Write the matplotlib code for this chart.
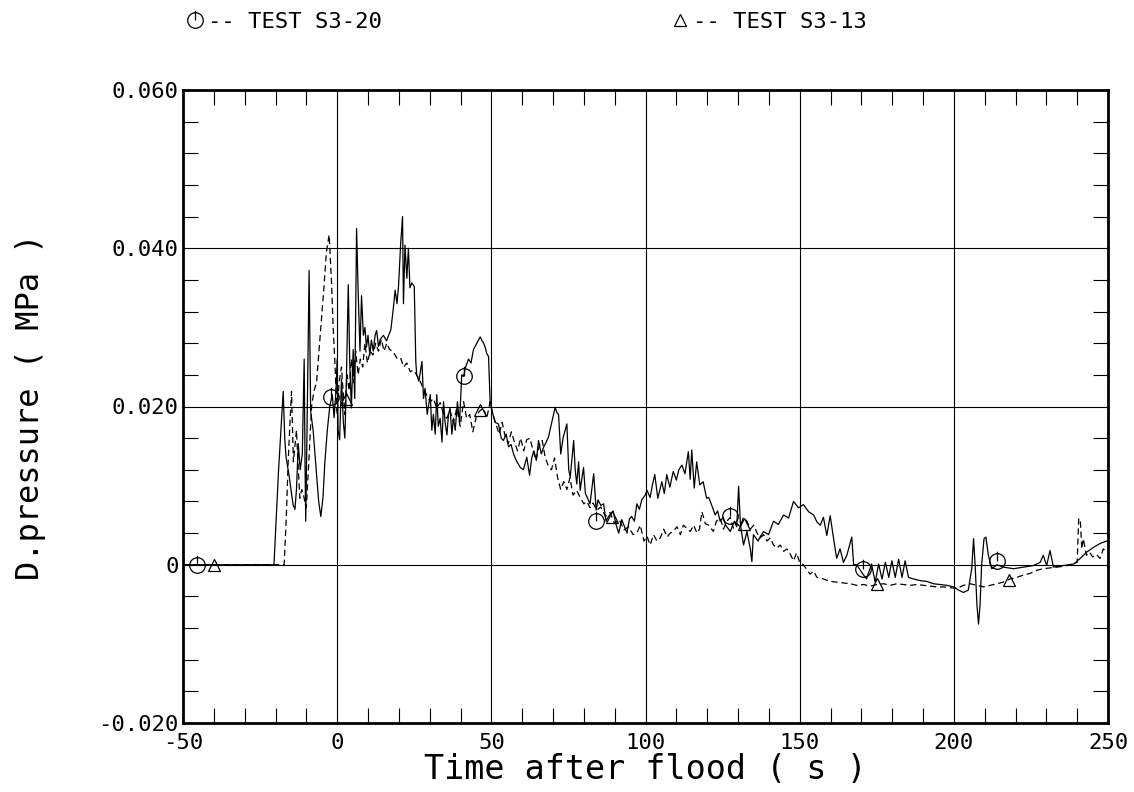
import numpy as np
import matplotlib
matplotlib.use("Agg")
import matplotlib.pyplot as plt
from matplotlib.path import Path
from matplotlib.ticker import FixedLocator, FixedFormatter, MultipleLocator

# TEST S3-20 (solid line), (time s, pressure MPa)
s3_20 = [
    (-50, 0.0), (-20.5, 0.0), (-19, 0.012), (-17.5, 0.0219), (-17, 0.016),
    (-16.6, 0.0137), (-15.5, 0.011), (-14.3, 0.0076), (-13.7, 0.007), (-13.2, 0.0095),
    (-12.6, 0.0153), (-12, 0.012), (-11.3, 0.014), (-11, 0.020), (-10.7, 0.026),
    (-10.4, 0.012), (-10.2, 0.0055), (-9.6, 0.022), (-9.1, 0.0372), (-8.6, 0.0194),
    (-7.8, 0.017), (-7, 0.013), (-6, 0.008), (-5.3, 0.0061), (-4.6, 0.0085),
    (-4, 0.0129), (-3.2, 0.017), (-2.4, 0.020), (-1.6, 0.0215), (-1, 0.0186),
    (-0.4, 0.0219), (0, 0.026), (0.3, 0.017), (0.8, 0.0158), (1.4, 0.0235),
    (2, 0.018), (2.5, 0.016), (3.0, 0.0235), (3.6, 0.0354), (4.1, 0.0252),
    (4.6, 0.0198), (5.2, 0.0272), (5.7, 0.021), (6.3, 0.0425), (6.8, 0.0346),
    (7.4, 0.027), (7.9, 0.034), (8.5, 0.029), (9.0, 0.030), (9.5, 0.0275),
    (10, 0.029), (10.6, 0.0265), (11.1, 0.0284), (11.7, 0.027), (12.3, 0.029),
    (12.8, 0.0296), (13.4, 0.0276), (14, 0.0285), (15, 0.029), (16, 0.0283),
    (17.4, 0.0297), (18.1, 0.032), (18.8, 0.0347), (19.4, 0.033), (19.9, 0.0352),
    (20.6, 0.0406), (21.2, 0.044), (21.5, 0.033), (22, 0.0404), (22.6, 0.0362),
    (23.1, 0.040), (23.6, 0.035), (24.2, 0.0356), (25, 0.0352), (25.5, 0.0257),
    (25.8, 0.024), (26.5, 0.0232), (27.5, 0.0257), (28, 0.021), (28.5, 0.0223),
    (29.2, 0.019), (30.2, 0.0215), (30.7, 0.017), (31.2, 0.019), (31.8, 0.0165),
    (32.3, 0.0215), (32.8, 0.0175), (33.4, 0.0185), (34, 0.0155), (34.5, 0.0206),
    (35, 0.018), (35.6, 0.0164), (36.1, 0.019), (36.6, 0.0198), (37.2, 0.0165),
    (37.7, 0.0185), (38.3, 0.017), (39, 0.0206), (39.7, 0.018), (40.4, 0.024),
    (41, 0.0238), (41.5, 0.0248), (42.6, 0.026), (43.4, 0.0255), (44.2, 0.0272),
    (45.3, 0.028), (46.4, 0.0288), (47, 0.0283), (47.5, 0.028), (48.0, 0.0275),
    (48.5, 0.0267), (49.1, 0.0263), (49.6, 0.0206), (50.2, 0.0195), (51.2, 0.018),
    (52.3, 0.0178), (53.2, 0.016), (53.9, 0.0157), (54.8, 0.0165), (55.6, 0.0149),
    (56.4, 0.0152), (57.2, 0.014), (58.3, 0.013), (59.4, 0.0123), (60.4, 0.012),
    (61.5, 0.0136), (62.4, 0.0113), (63.1, 0.0135), (63.8, 0.0144), (64.6, 0.0132),
    (65.3, 0.0157), (66.2, 0.014), (67, 0.0149), (67.8, 0.0155), (68.5, 0.0161),
    (69.6, 0.018), (70.7, 0.0199), (71.3, 0.0192), (71.8, 0.019), (72.5, 0.014),
    (73.3, 0.0161), (74.5, 0.0178), (75.1, 0.012), (75.6, 0.0111), (76.7, 0.0157),
    (77.2, 0.012), (77.7, 0.0102), (78.3, 0.013), (78.8, 0.0094), (79.9, 0.0123),
    (80.5, 0.009), (81, 0.0086), (82, 0.0077), (83.2, 0.0115), (84, 0.0069),
    (84.6, 0.0082), (85.5, 0.0075), (86.4, 0.0077), (87.2, 0.0055), (88, 0.0061),
    (89.5, 0.0068), (90.5, 0.005), (91.3, 0.004), (92.3, 0.0057), (93.2, 0.0048),
    (94, 0.004), (94.8, 0.0058), (95.5, 0.0061), (96.4, 0.0055), (97.2, 0.0077),
    (98, 0.007), (98.8, 0.0082), (99.9, 0.0088), (100.5, 0.0094), (101.5, 0.0085),
    (102.2, 0.010), (103, 0.0114), (104, 0.0084), (105.3, 0.0105), (106.1, 0.009),
    (106.9, 0.0114), (107.9, 0.0098), (109, 0.0118), (110, 0.0107), (110.8, 0.012),
    (111.8, 0.0126), (112.8, 0.0115), (113.9, 0.0143), (114.5, 0.0108), (115, 0.0145),
    (115.8, 0.0097), (116.6, 0.013), (117.6, 0.0101), (118.7, 0.0105), (119.8, 0.0084),
    (120.5, 0.0085), (121.4, 0.0076), (122.6, 0.0063), (123.4, 0.0068), (124.2, 0.0055),
    (125.2, 0.006), (126, 0.005), (127.5, 0.0042), (128.8, 0.0055), (129.6, 0.0048),
    (130.2, 0.0099), (130.8, 0.005), (131.8, 0.0025), (132.9, 0.0042), (134, 0.002),
    (134.5, 0.0004), (135, 0.0038), (136.5, 0.003), (137.3, 0.0036), (138.3, 0.0042),
    (139.9, 0.0038), (141.5, 0.0055), (143.1, 0.0051), (144.8, 0.0063), (146.4, 0.0059),
    (148, 0.008), (149.6, 0.0072), (151.2, 0.0076), (152.9, 0.0067), (154.5, 0.0063),
    (155.6, 0.0054), (156.7, 0.005), (157.7, 0.006), (158.8, 0.0037), (159.9, 0.0062),
    (161, 0.0033), (162, 0.0008), (163.1, 0.002), (164.2, 0.0003), (165.3, 0.0012),
    (166.9, 0.0035), (167.5, 0.0), (168.5, 0.0), (170, -0.0009), (171.7, -0.0018),
    (173.3, 0.0001), (174.5, -0.0022), (175.6, 0.0001), (176.7, -0.0018), (177.8, 0.0003),
    (178.9, -0.0016), (179.9, 0.0005), (181, -0.0016), (182.1, 0.0007), (183.2, -0.0016),
    (184.2, 0.0005), (185.3, -0.0016), (187, -0.0018), (189, -0.002), (191.2, -0.0021),
    (193.4, -0.0024), (195.6, -0.0025), (197.7, -0.0026), (200, -0.0028), (201.5, -0.0032),
    (203.1, -0.0035), (204.7, -0.0032), (205.8, -0.0005), (206.4, 0.0033), (206.9, 0.0),
    (207.5, -0.0051), (208, -0.0075), (208.5, -0.0051), (209, -0.0001), (209.8, 0.0033),
    (210.4, 0.0035), (211.2, 0.0012), (212.3, -0.0005), (214, 0.0), (216, -0.0003),
    (219.4, -0.0005), (222.6, -0.0003), (225.8, -0.0001), (228, 0.0003), (229, 0.0012),
    (230.1, -0.0001), (231.2, 0.0018), (232.3, -0.0003), (235.5, -0.0001), (238.9, 0.0001),
    (241, 0.0008), (243.1, 0.0016), (245.3, 0.0022), (247.5, 0.0027), (249.6, 0.003),
    (250, 0.003),
]

# TEST S3-13 (dashed line)
s3_13 = [
    (-50, 0.0), (-17.2, 0.0), (-16.5, 0.006), (-15.9, 0.0129), (-15.3, 0.018),
    (-14.8, 0.0219), (-14.2, 0.013), (-13.7, 0.015), (-13.2, 0.017), (-12.6, 0.012),
    (-12.1, 0.0084), (-11.5, 0.0095), (-11, 0.009), (-10.5, 0.008), (-10, 0.0072),
    (-9.2, 0.013), (-8.3, 0.020), (-7.5, 0.022), (-6.7, 0.023), (-5.9, 0.027),
    (-5.1, 0.031), (-4.3, 0.035), (-3.5, 0.0395), (-2.6, 0.0417), (-1.8, 0.0354),
    (-1.3, 0.030), (-0.8, 0.026), (0, 0.019), (0.6, 0.023), (1.4, 0.025),
    (2.1, 0.021), (2.5, 0.019), (3.2, 0.024), (3.9, 0.022), (4.6, 0.026),
    (5.3, 0.023), (6, 0.027), (6.8, 0.024), (7.5, 0.026), (8.3, 0.025),
    (9, 0.028), (9.8, 0.0255), (10.7, 0.027), (11.6, 0.0265), (12.5, 0.028),
    (13.4, 0.027), (14.3, 0.0285), (15.2, 0.027), (16.1, 0.028), (17, 0.0272),
    (18, 0.027), (19.4, 0.0261), (20.5, 0.0262), (21.6, 0.025), (22.6, 0.0255),
    (23.7, 0.0244), (24.7, 0.0246), (25.8, 0.024), (26.8, 0.0233), (27.9, 0.0223),
    (29, 0.0215), (30.2, 0.0206), (31.2, 0.021), (32.3, 0.0198), (33.4, 0.0205),
    (34.5, 0.019), (35.6, 0.0185), (36.6, 0.0195), (37.7, 0.018), (38.8, 0.0198),
    (39.9, 0.0175), (41, 0.0206), (42, 0.0185), (43, 0.019), (44, 0.0168),
    (45.3, 0.019), (46.4, 0.0195), (47.5, 0.0198), (48.5, 0.0185), (49.6, 0.0206),
    (50.5, 0.019), (51.5, 0.0178), (52.5, 0.0165), (53.5, 0.018), (54.5, 0.0162),
    (55.5, 0.0153), (56.5, 0.0168), (57.5, 0.0155), (58.5, 0.0144), (59.5, 0.016),
    (60.5, 0.0144), (61.5, 0.0158), (62.5, 0.016), (63.5, 0.0145), (64.5, 0.0132),
    (65.5, 0.015), (66.5, 0.0157), (67.5, 0.0135), (68.5, 0.0125), (69.5, 0.012),
    (70.5, 0.0135), (71.5, 0.011), (72.5, 0.0095), (73.5, 0.0105), (74.5, 0.0095),
    (75.5, 0.011), (76.5, 0.0088), (77.7, 0.0094), (78.8, 0.0085), (80, 0.0077),
    (81, 0.008), (82, 0.0072), (83, 0.0078), (84.2, 0.0069), (85.5, 0.0073),
    (87, 0.0061), (88.5, 0.0066), (90, 0.0052), (91.5, 0.0057), (93, 0.0044),
    (94.5, 0.0048), (96, 0.0038), (97.2, 0.004), (98.3, 0.005), (99.5, 0.003),
    (100.5, 0.0036), (101.5, 0.0025), (102.6, 0.0038), (103.7, 0.003), (104.8, 0.0034),
    (105.9, 0.0045), (107, 0.0035), (108, 0.004), (109, 0.0042), (110.2, 0.0048),
    (111.3, 0.0038), (112.3, 0.005), (113.4, 0.0046), (114.5, 0.0042), (115.6, 0.005),
    (116.7, 0.004), (117.5, 0.0045), (118.3, 0.0067), (119.4, 0.0052), (120.5, 0.005),
    (122, 0.0042), (123, 0.0055), (124.2, 0.0059), (125.3, 0.0045), (126.4, 0.0055),
    (127.5, 0.006), (128.5, 0.0046), (129.6, 0.0052), (130.7, 0.0048), (131.8, 0.006),
    (132.9, 0.0055), (134, 0.0045), (135.1, 0.005), (136.2, 0.004), (137.2, 0.0034),
    (138.3, 0.0038), (139.4, 0.003), (140.5, 0.0034), (141.5, 0.0025), (142.6, 0.0021),
    (143.7, 0.0025), (144.8, 0.0017), (145.9, 0.002), (147, 0.0013), (148, 0.0005),
    (149, 0.0015), (150.1, 0.0002), (151.2, 0.0), (152.3, -0.0006), (153.4, -0.0012),
    (154.5, -0.0008), (155.6, -0.0016), (157.7, -0.0018), (159.9, -0.0021), (162, -0.0022),
    (164.2, -0.0023), (166.4, -0.0024), (168.5, -0.0026), (170.7, -0.0025), (172.9, -0.0027),
    (175, -0.0025), (177.2, -0.0024), (179.4, -0.0026), (181.5, -0.0024), (183.7, -0.0025),
    (185.8, -0.0026), (188, -0.0025), (190.2, -0.0026), (192.3, -0.0027), (194.5, -0.0028),
    (196.6, -0.0028), (198.8, -0.0029), (201, -0.003), (203.1, -0.0026), (205.3, -0.0024),
    (207.5, -0.0026), (209.6, -0.0028), (211.8, -0.0026), (214, -0.0024), (216, -0.0022),
    (218.2, -0.0018), (220.4, -0.0016), (222.6, -0.0013), (224.7, -0.0011), (226.9, -0.0007),
    (229, -0.0005), (231.2, -0.0004), (233.4, -0.0003), (235.5, -0.0002), (237.8, 0.0),
    (240, 0.0003), (240.5, 0.0058), (241, 0.0058), (241.5, 0.002), (242, 0.0033),
    (243, 0.0012), (244, 0.0016), (245, 0.001), (246.3, 0.0013), (247.4, 0.0008),
    (248.5, 0.002), (249.6, 0.0016),
]

# symbol positions along each curve
circle_t = [-45.5, -2.0, 41.0, 84.0, 127.5, 170.5, 214.0]
circle_v = [0.0, 0.0212, 0.0238, 0.0055, 0.0062, -0.0006, 0.0005]
tri_t = [-40.0, 3.0, 46.4, 89.0, 132.0, 175.0, 218.0]
tri_v = [0.0, 0.021, 0.0196, 0.006, 0.0052, -0.0024, -0.0019]

xticks = [-50, 0, 50, 100, 150, 200, 250]
xtick_labels = ["-50", "0", "50", "100", "150", "200", "250"]
yticks = [-0.02, 0.0, 0.02, 0.04, 0.06]
ytick_labels = ["-0.020", "0", "0.020", "0.040", "0.060"]

plt.rcParams["font.family"] = ["DejaVu Sans Mono", "DejaVu Sans"]

a = np.array(s3_20)
b = np.array(s3_13)

fig = plt.figure(figsize=(11.34, 7.92), dpi=100)
ax = fig.add_axes([183 / 1134, 69 / 792, 925 / 1134, 633 / 792])

ax.plot(a[:, 0], a[:, 1], color="black", lw=0.9)
ax.plot(b[:, 0], b[:, 1], color="black", lw=0.9, linestyle=(0, (5, 3)))

# circle with a short vertical stroke, like the plotter symbol
circ = Path.unit_circle()
phi = Path(
    np.concatenate([circ.vertices, [[0, 0], [0, 1.25]]]),
    np.concatenate([circ.codes, [Path.MOVETO, Path.LINETO]]),
)
h1, = ax.plot(circle_t, circle_v, linestyle="none", marker=phi, markersize=14,
              markerfacecolor="none", markeredgecolor="black", markeredgewidth=0.9)
h2, = ax.plot(tri_t, tri_v, linestyle="none", marker="^", markersize=9,
              markerfacecolor="none", markeredgecolor="black", markeredgewidth=0.9)

ax.set_xlim(-50, 250)
ax.set_ylim(-0.02, 0.06)
ax.xaxis.set_major_locator(FixedLocator(xticks))
ax.xaxis.set_major_formatter(FixedFormatter(xtick_labels))
ax.yaxis.set_major_locator(FixedLocator(yticks))
ax.yaxis.set_major_formatter(FixedFormatter(ytick_labels))
ax.xaxis.set_minor_locator(MultipleLocator(10))
ax.yaxis.set_minor_locator(MultipleLocator(0.004))

ax.grid(True, which="major", color="black", lw=0.8)
ax.tick_params(which="both", direction="in", top=True, right=True, colors="black")
ax.tick_params(which="major", length=0, labelsize=16)
ax.tick_params(axis="x", which="major", pad=7)
ax.tick_params(axis="y", which="major", pad=3)
ax.tick_params(which="minor", length=11, width=0.8)
for s in ax.spines.values():
    s.set_linewidth(2)

ax.set_xlabel("Time after flood ( s )", fontsize=24, labelpad=0)
ax.set_ylabel("D.pressure ( MPa )", fontsize=23, labelpad=38)

ax.legend([h1, h2], ["-- TEST S3-20", "-- TEST S3-13"], ncol=2, frameon=False,
          loc="center left", bbox_to_anchor=(186 / 1134, 1 - 22 / 792),
          bbox_transform=fig.transFigure, fontsize=16, handlelength=0.8,
          handletextpad=0.2, columnspacing=13, borderaxespad=0, borderpad=0)

fig.savefig("out.png", dpi=100)
